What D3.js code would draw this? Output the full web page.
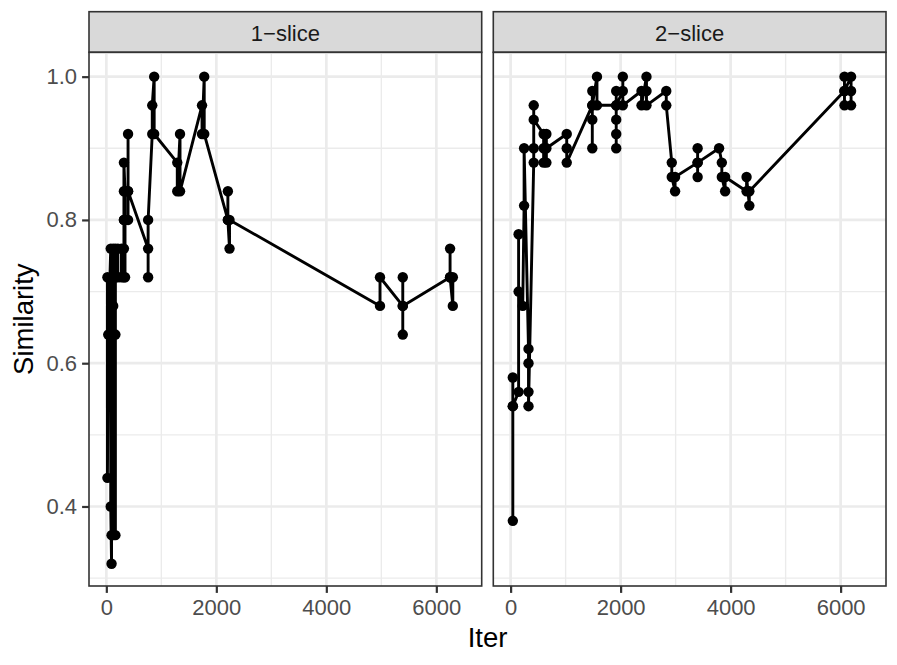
<!DOCTYPE html>
<html>
<head>
<meta charset="utf-8">
<script src="https://cdn.jsdelivr.net/npm/d3@7"></script>
<style>
  body { margin: 0; background: #fff; }
  text { font-family: "Liberation Sans", Arial, sans-serif; }
</style>
</head>
<body>
<div id="chart"></div>
<script>
// facet labels
const facets = ['1\u2212slice', '2\u2212slice'];

// [iter, similarity] per facet, in plotting order
const slice1 = [
    [20, 0.72], [20, 0.44], [35, 0.64], [80, 0.76], [80, 0.40], [95, 0.32], [95, 0.36],
    [125, 0.36], [125, 0.68], [125, 0.64], [125, 0.76],
    [165, 0.64], [165, 0.36], [165, 0.72], [165, 0.76],
    [210, 0.72], [210, 0.76], [275, 0.76], [275, 0.72],
    [320, 0.72], [320, 0.76], [320, 0.80], [320, 0.84], [320, 0.80], [320, 0.88],
    [340, 0.84], [340, 0.72], [340, 0.80],
    [395, 0.80], [395, 0.84], [395, 0.92], [395, 0.84],
    [760, 0.76], [760, 0.72], [760, 0.80],
    [835, 0.92], [835, 0.96], [870, 1.00], [870, 0.92],
    [1290, 0.88], [1290, 0.84], [1340, 0.92], [1340, 0.84],
    [1740, 0.96], [1740, 0.92], [1780, 1.00], [1780, 0.92],
    [2210, 0.80], [2210, 0.84], [2210, 0.80], [2240, 0.76], [2240, 0.80],
    [4976, 0.68], [4976, 0.72],
    [5390, 0.68], [5390, 0.72], [5390, 0.64], [5390, 0.68],
    [6250, 0.72], [6250, 0.76], [6250, 0.72], [6300, 0.68], [6300, 0.72]
];

const slice2 = [
    [40, 0.38], [40, 0.54], [40, 0.58], [40, 0.54],
    [145, 0.56], [145, 0.78], [145, 0.70], [220, 0.68], [245, 0.82], [245, 0.90],
    [325, 0.62], [325, 0.60], [325, 0.56], [325, 0.54],
    [420, 0.88], [420, 0.90], [420, 0.96], [420, 0.94],
    [600, 0.92], [600, 0.90], [600, 0.88], [650, 0.88], [650, 0.92], [650, 0.90],
    [1020, 0.92], [1020, 0.90], [1020, 0.88],
    [1485, 0.96], [1485, 0.90], [1485, 0.94], [1485, 0.98], [1485, 0.96],
    [1570, 1.00], [1570, 0.96],
    [1920, 0.96], [1920, 0.98], [1920, 0.94], [1920, 0.92], [1920, 0.90], [1920, 0.96],
    [2040, 0.98], [2040, 1.00], [2040, 0.96],
    [2380, 0.98], [2380, 0.96], [2470, 1.00], [2470, 0.98], [2470, 0.96],
    [2830, 0.98], [2830, 0.96],
    [2930, 0.88], [2930, 0.86], [2990, 0.84], [2990, 0.86],
    [3400, 0.88], [3400, 0.86], [3400, 0.90], [3400, 0.88],
    [3790, 0.90], [3840, 0.88], [3840, 0.86], [3900, 0.84], [3900, 0.86],
    [4290, 0.84], [4290, 0.86], [4340, 0.82], [4340, 0.84],
    [6070, 0.98], [6070, 1.00], [6070, 0.96], [6070, 0.98],
    [6190, 1.00], [6190, 0.98], [6190, 0.96]
];

const xTicks = [0, 2000, 4000, 6000];
const xMinor = [1000, 3000, 5000];
const yTicks = [0.4, 0.6, 0.8, 1.0];
const yMinor = [0.3, 0.5, 0.7, 0.9];

const width = 897, height = 665;
const panelW = 392.7, panelTop = 52.3, panelH = 533.7, stripTop = 11.7;
const panelLefts = [89, 493.3];

const svg = d3.select('#chart').append('svg')
    .attr('width', width)
    .attr('height', height);

const x = d3.scaleLinear().domain([-315, 6825]).range([0, panelW]);
const y = d3.scaleLinear().domain([0.289, 1.034]).range([panelH, 0]);

const line = d3.line()
    .x(d => x(d[0]))
    .y(d => y(d[1]));

[slice1, slice2].forEach((data, i) => {
    const g = svg.append('g')
        .attr('transform', `translate(${panelLefts[i]},${panelTop})`);

    // strip
    g.append('rect')
        .attr('x', 0).attr('y', stripTop - panelTop)
        .attr('width', panelW).attr('height', panelTop - stripTop)
        .attr('fill', '#d9d9d9').attr('stroke', '#333333').attr('stroke-width', 1.6);
    g.append('text')
        .attr('x', panelW / 2).attr('y', 41 - panelTop)
        .attr('text-anchor', 'middle')
        .attr('font-size', 22)
        .attr('fill', '#1a1a1a')
        .text(facets[i]);

    // grid
    g.selectAll('.xminor').data(xMinor).enter().append('line')
        .attr('x1', d => x(d)).attr('x2', d => x(d))
        .attr('y1', 0).attr('y2', panelH)
        .attr('stroke', '#ebebeb').attr('stroke-width', 1.35);
    g.selectAll('.yminor').data(yMinor).enter().append('line')
        .attr('y1', d => y(d)).attr('y2', d => y(d))
        .attr('x1', 0).attr('x2', panelW)
        .attr('stroke', '#ebebeb').attr('stroke-width', 1.35);
    g.selectAll('.xmajor').data(xTicks).enter().append('line')
        .attr('x1', d => x(d)).attr('x2', d => x(d))
        .attr('y1', 0).attr('y2', panelH)
        .attr('stroke', '#ebebeb').attr('stroke-width', 2.7);
    g.selectAll('.ymajor').data(yTicks).enter().append('line')
        .attr('y1', d => y(d)).attr('y2', d => y(d))
        .attr('x1', 0).attr('x2', panelW)
        .attr('stroke', '#ebebeb').attr('stroke-width', 2.7);

    // data
    g.append('path')
        .datum(data)
        .attr('d', line)
        .attr('fill', 'none')
        .attr('stroke', '#000')
        .attr('stroke-width', 2.9)
        .attr('stroke-linejoin', 'round');
    g.selectAll('.pt').data(data).enter().append('circle')
        .attr('cx', d => x(d[0]))
        .attr('cy', d => y(d[1]))
        .attr('r', 5.2)
        .attr('fill', '#000');

    // border
    g.append('rect')
        .attr('width', panelW).attr('height', panelH)
        .attr('fill', 'none').attr('stroke', '#333333').attr('stroke-width', 1.6);

    // x axis
    const xa = g.append('g')
        .attr('transform', `translate(0,${panelH})`)
        .call(d3.axisBottom(x).tickValues(xTicks).tickSize(6.9).tickPadding(6).tickFormat(d3.format('d')));
    xa.select('.domain').remove();
    xa.selectAll('line').attr('stroke', '#333333').attr('stroke-width', 2.2);
    xa.selectAll('text').attr('fill', '#4d4d4d').attr('font-size', 22)
        .style('font-family', '"Liberation Sans", Arial, sans-serif');

    if (i === 0) {
        const ya = g.append('g')
            .call(d3.axisLeft(y).tickValues(yTicks).tickSize(6.9).tickPadding(5).tickFormat(d3.format('.1f')));
        ya.select('.domain').remove();
        ya.selectAll('line').attr('stroke', '#333333').attr('stroke-width', 2.2);
        ya.selectAll('text').attr('fill', '#4d4d4d').attr('font-size', 22)
            .style('font-family', '"Liberation Sans", Arial, sans-serif');
    }
});

// axis titles
svg.append('text')
    .attr('x', (panelLefts[0] + panelLefts[1] + panelW) / 2)
    .attr('y', 647)
    .attr('text-anchor', 'middle')
    .attr('font-size', 27.5)
    .attr('fill', '#000')
    .text('Iter');

svg.append('text')
    .attr('transform', `translate(33,${panelTop + panelH / 2}) rotate(-90)`)
    .attr('text-anchor', 'middle')
    .attr('font-size', 27.5)
    .attr('fill', '#000')
    .text('Similarity');
</script>
</body>
</html>
